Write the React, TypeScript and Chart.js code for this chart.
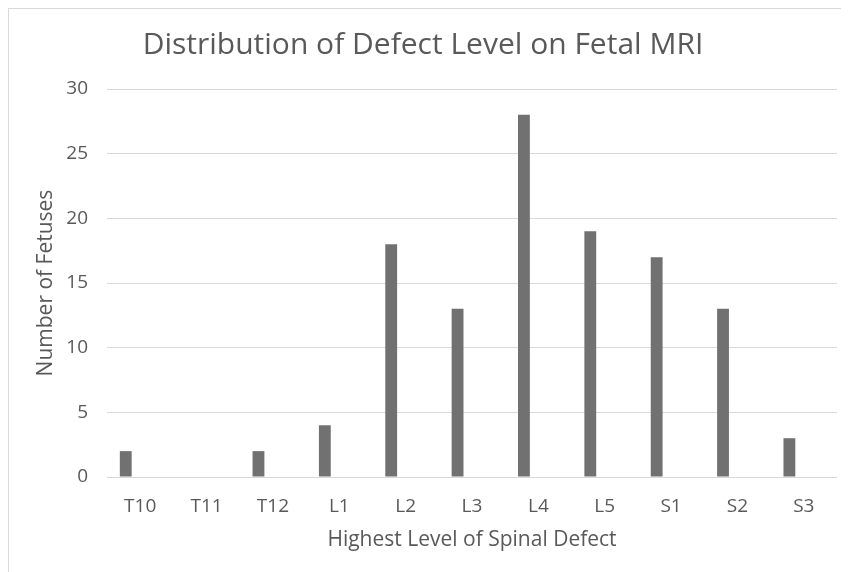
import React, { useEffect, useRef } from "react";
import { Chart, registerables } from "chart.js";

Chart.register(...registerables);

const categories = ["T10", "T11", "T12", "L1", "L2", "L3", "L4", "L5", "S1", "S2", "S3"];
const counts = [2, 0, 2, 4, 18, 13, 28, 19, 17, 13, 3];
// second (empty) series in the original workbook that shifts the visible bars left
const emptySeries = [null, null, null, null, null, null, null, null, null, null, null];
const titleText = "Distribution of Defect Level on Fetal MRI";
const xTitle = "Highest Level of Spinal Defect";
const yTitle = "Number of Fetuses";

const FONT = "'Open Sans', 'Noto Sans', sans-serif";
const TEXT = "#595959";

export default function App() {
  const ref = useRef<HTMLCanvasElement | null>(null);
  useEffect(() => {
    if (!ref.current) return;
    const chart = new Chart(ref.current, {
      type: "bar",
      data: {
        labels: categories,
        datasets: [
          {
            data: counts,
            backgroundColor: "#717171",
            borderWidth: 0,
            barPercentage: 0.41,
            categoryPercentage: 0.87,
          },
          {
            data: emptySeries,
            backgroundColor: "#a5a5a5",
            borderWidth: 0,
            barPercentage: 0.41,
            categoryPercentage: 0.87,
          },
        ],
      },
      options: {
        animation: false,
        responsive: false,
        maintainAspectRatio: false,
        layout: { padding: { left: 0, right: 12, top: 0, bottom: 0 } },
        plugins: {
          legend: { display: false },
          tooltip: { enabled: false },
          title: {
            display: true,
            text: titleText,
            color: TEXT,
            font: { family: FONT, size: 30, weight: "normal" },
            padding: { top: 18, bottom: 26 },
          },
        },
        scales: {
          x: {
            grid: { display: false, drawTicks: false },
            border: { display: false },
            ticks: { color: TEXT, font: { family: FONT, size: 19 }, padding: 18, maxRotation: 0 },
            title: {
              display: true,
              text: xTitle,
              color: TEXT,
              font: { family: FONT, size: 21 },
              padding: { top: 4, bottom: 19 },
            },
            afterFit: (s: any) => {
              s.height = 95;
            },
          },
          y: {
            min: 0,
            max: 30,
            ticks: { stepSize: 5, color: TEXT, font: { family: FONT, size: 19 }, padding: 19 },
            grid: { color: "#d9d9d9", lineWidth: 1, drawTicks: false },
            border: { display: false },
            title: {
              display: true,
              text: yTitle,
              color: TEXT,
              font: { family: FONT, size: 21 },
              padding: { top: 24, bottom: 4 },
            },
            afterFit: (s: any) => {
              s.width = 98;
            },
          },
        },
      },
    });
    return () => chart.destroy();
  }, []);
  return (
    <div
      style={{
        width: 841,
        height: 564,
        borderLeft: "1px solid #d9d9d9",
        borderTop: "1px solid #d9d9d9",
        boxSizing: "border-box",
        overflow: "hidden",
        background: "#fff",
      }}
    >
      <canvas ref={ref} width={840} height={563} style={{ display: "block" }} />
    </div>
  );
}
